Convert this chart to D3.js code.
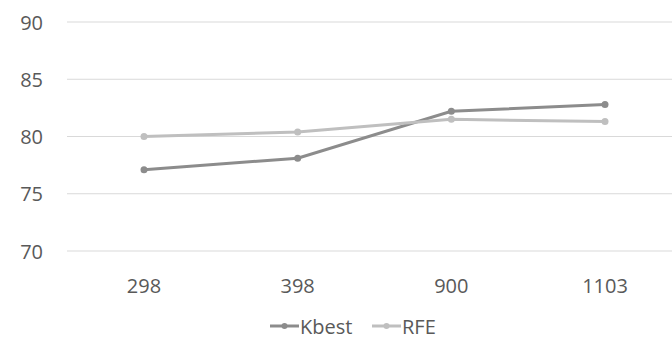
<!DOCTYPE html>
<html><head><meta charset="utf-8">
<script src="https://cdn.jsdelivr.net/npm/d3@7"></script>
<style>body{margin:0;background:#fff}svg{display:block}text{font-family:"Open Sans","Noto Sans",sans-serif;fill:#595959}</style>
</head><body><svg id="c" width="672" height="338"></svg>
<script>
const categories = ["298","398","900","1103"];
const kbest = [77.1, 78.1, 82.2, 82.8];
const rfe = [80.0, 80.4, 81.5, 81.3];
const yTicks = [70,75,80,85,90];
const seriesNames = ["Kbest","RFE"];
const colors = ["#8c8c8c","#bfbfbf"];

const svg = d3.select("#c");
const x = d3.scalePoint().domain(categories).range([144,605]);
const y = d3.scaleLinear().domain([70,90]).range([251,22]);

svg.append("g").selectAll("line").data(yTicks).join("line")
  .attr("x1",67).attr("x2",672).attr("y1",d=>y(d)).attr("y2",d=>y(d))
  .attr("stroke","#d9d9d9").attr("stroke-width",1);
svg.append("g").selectAll("text").data(yTicks).join("text")
  .attr("x",43).attr("y",d=>y(d)).attr("text-anchor","end").attr("dominant-baseline","central")
  .style("font-size","20px").text(d=>d);
svg.append("g").selectAll("text").data(categories).join("text")
  .attr("x",d=>x(d)).attr("y",285).attr("text-anchor","middle").attr("dominant-baseline","central")
  .style("font-size","20px").text(d=>d);

const line = d3.line().x((d,i)=>x(categories[i])).y(d=>y(d));
[kbest, rfe].forEach((s,k)=>{
  const g = svg.append("g");
  g.append("path").datum(s).attr("d",line).attr("fill","none").attr("stroke",colors[k]).attr("stroke-width",3);
  g.selectAll("circle").data(s).join("circle").attr("cx",(d,i)=>x(categories[i])).attr("cy",d=>y(d)).attr("r",3.5).attr("fill",colors[k]);
});

const lg = svg.append("g");
const lx = [270, 372];
seriesNames.forEach((n,k)=>{
  lg.append("line").attr("x1",lx[k]).attr("x2",lx[k]+29).attr("y1",326).attr("y2",326).attr("stroke",colors[k]).attr("stroke-width",3);
  lg.append("circle").attr("cx",lx[k]+14.5).attr("cy",326).attr("r",3).attr("fill",colors[k]);
  lg.append("text").attr("x",lx[k]+30).attr("y",326).attr("dominant-baseline","central").style("font-size","20px").text(n);
});
</script></body></html>
